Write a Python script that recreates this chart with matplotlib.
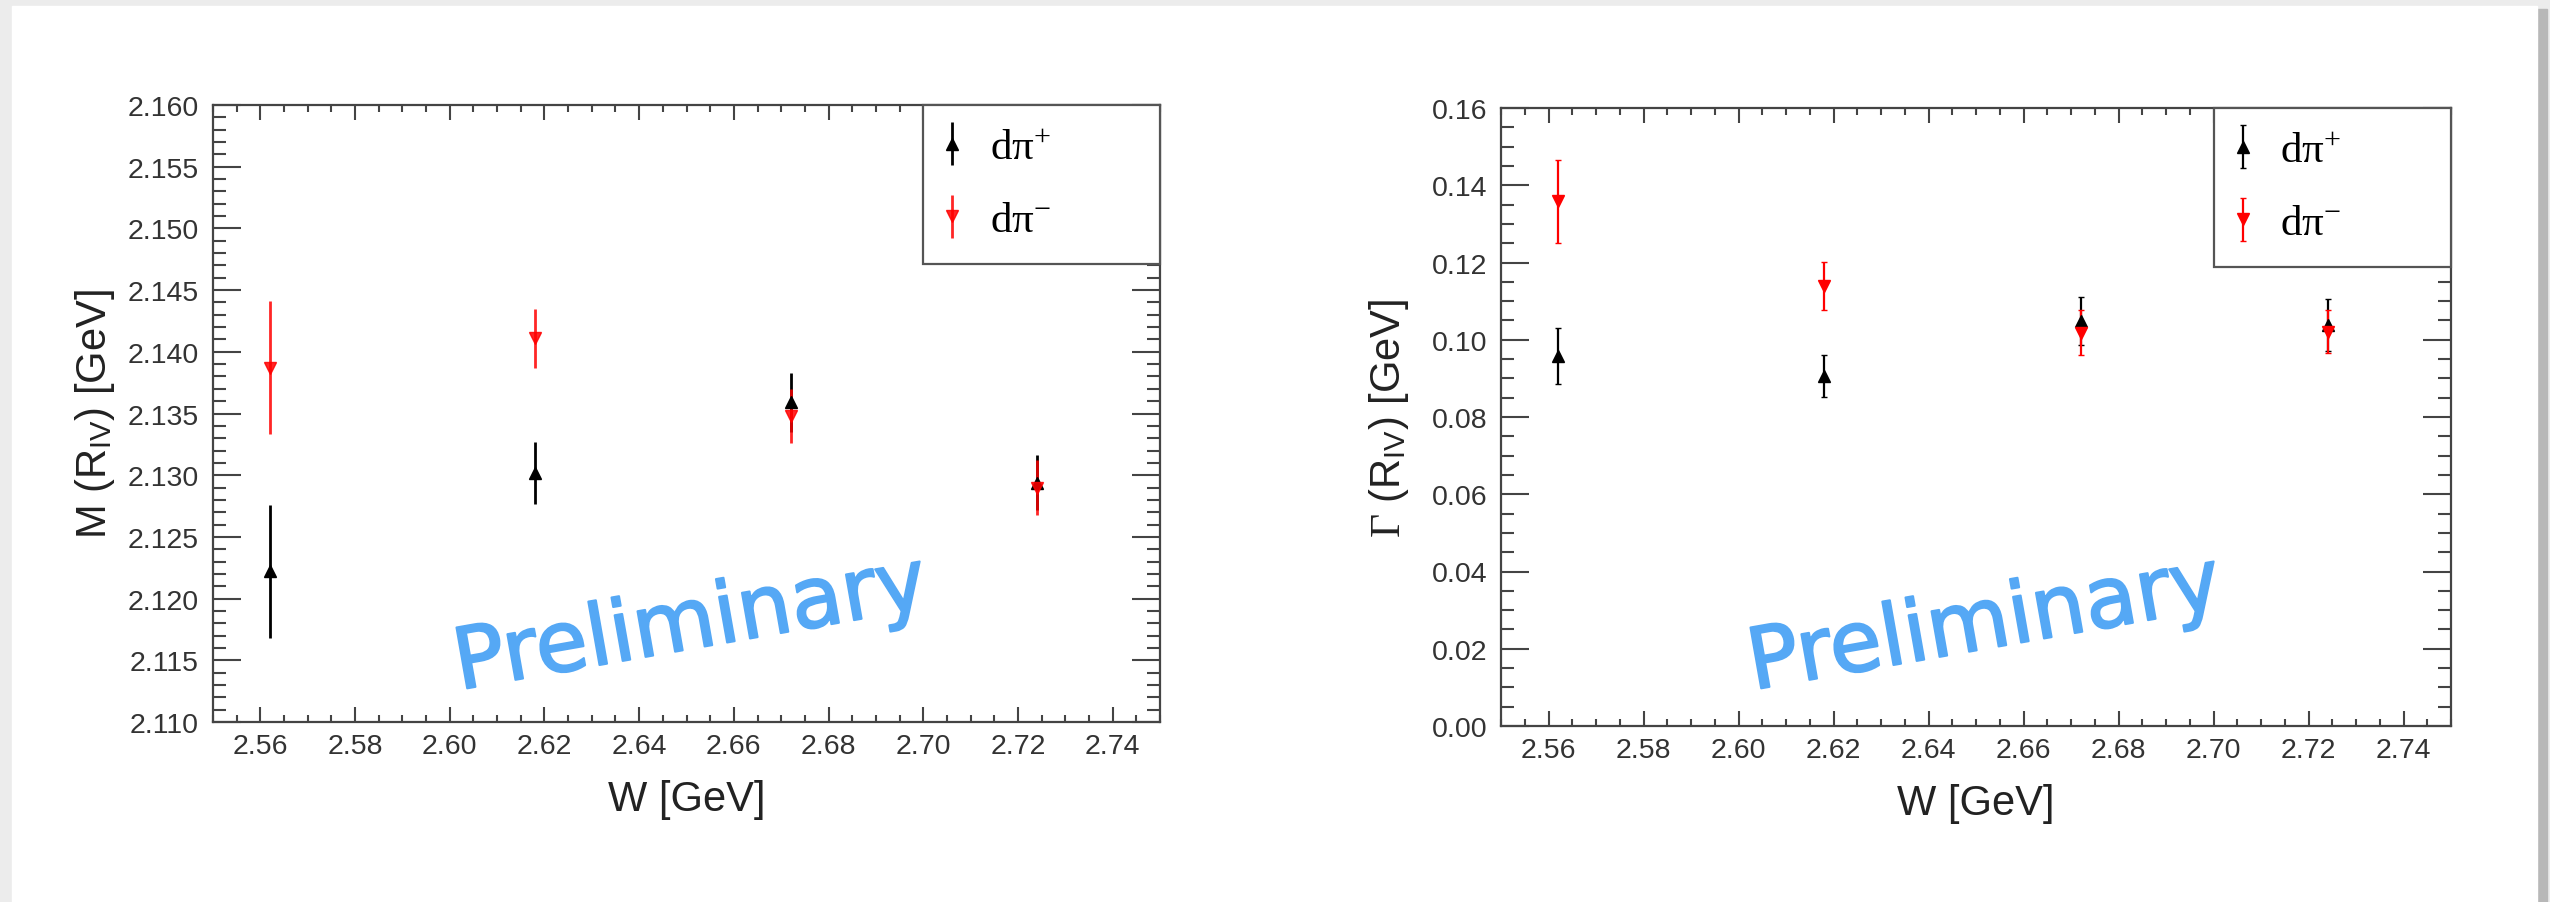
import matplotlib
matplotlib.use("Agg")
import matplotlib.pyplot as plt
import matplotlib.patheffects as pe
from matplotlib.patches import Rectangle
from matplotlib.ticker import MultipleLocator, FormatStrFormatter

# W [GeV] of the four bins
w_bins = [2.562, 2.618, 2.672, 2.724]

# mass of R_IV
mass_dpip = [2.1222, 2.1302, 2.1359, 2.1294]
mass_dpip_err = [0.0054, 0.0025, 0.0024, 0.0022]
mass_dpim = [2.1387, 2.1411, 2.1348, 2.1290]
mass_dpim_err = [0.0054, 0.0024, 0.0022, 0.0022]

# width of R_IV
width_dpip = [0.0958, 0.0906, 0.1048, 0.1039]
width_dpip_err = [0.0073, 0.0055, 0.0062, 0.0067]
width_dpim = [0.1358, 0.1140, 0.1018, 0.1021]
width_dpim_err = [0.0107, 0.0062, 0.0058, 0.0055]

labels = ["d\u03c0$^{+}$", "d\u03c0$^{-}$"]

plt.rcParams["font.family"] = ["Liberation Sans", "DejaVu Sans"]
# serif maths (Gamma, legend superscripts), sans for \mathsf subscripts
plt.rcParams["mathtext.fontset"] = "custom"
plt.rcParams["mathtext.rm"] = "Liberation Serif"
plt.rcParams["mathtext.it"] = "Liberation Serif:italic"
plt.rcParams["mathtext.sf"] = "Liberation Sans"

fig = plt.figure(figsize=(25.5, 9.03), dpi=100, facecolor="#ececec")

# slide page with a soft shadow on the right
fig.patches.append(Rectangle((2537 / 2550, 0), 10 / 2550, 1 - 10 / 903,
                             transform=fig.transFigure, color="#b8b8b8", zorder=-2))
fig.patches.append(Rectangle((12 / 2550, 0), 2525 / 2550, 1 - 7 / 903,
                             transform=fig.transFigure, color="white", zorder=-1))

ax1 = fig.add_axes([213 / 2550, 1 - 723 / 903, 947 / 2550, 617 / 903])
ax2 = fig.add_axes([1501 / 2550, 1 - 727 / 903, 950 / 2550, 618 / 903])

tick_col = "#333333"


def style(ax, ymajor, yminor, yfmt):
    ax.set_xlim(2.55, 2.75)
    ax.xaxis.set_major_locator(MultipleLocator(0.02))
    ax.xaxis.set_minor_locator(MultipleLocator(0.005))
    ax.xaxis.set_major_formatter(FormatStrFormatter("%.2f"))
    ax.yaxis.set_major_locator(MultipleLocator(ymajor))
    ax.yaxis.set_minor_locator(MultipleLocator(yminor))
    ax.yaxis.set_major_formatter(FormatStrFormatter(yfmt))
    ax.tick_params(which="both", direction="in", top=True, right=True,
                   color="#444444", width=1.5, labelsize=20.5, labelcolor=tick_col)
    ax.tick_params(axis="x", which="major", length=11, pad=8)
    ax.tick_params(axis="x", which="minor", length=5)
    ax.tick_params(axis="y", which="major", length=20, pad=10)
    ax.tick_params(axis="y", which="minor", length=9.5)
    for sp in ax.spines.values():
        sp.set_color("#444444")
        sp.set_linewidth(1.6)
    ax.set_xlabel("W [GeV]", fontsize=30, color="#222222")
    ax.xaxis.set_label_coords(0.5, -0.092)


def legend(ax):
    leg = ax.legend(loc="upper right", bbox_to_anchor=(0.75, 0.0, 0.25, 1.0),
                    mode="expand", borderaxespad=0,
                    prop={"family": "Liberation Serif", "size": 31},
                    fancybox=False, framealpha=1, edgecolor="#555555",
                    handlelength=0.25, handletextpad=0.75, borderpad=0.55,
                    labelspacing=0.77)
    leg.get_frame().set_linewidth(1.6)
    leg.set_zorder(5)


# mass panel
style(ax1, 0.005, 0.001, "%.3f")
ax1.set_ylim(2.110, 2.160)
ax1.errorbar(w_bins, mass_dpip, yerr=mass_dpip_err, fmt="^", color="black",
             ms=9, elinewidth=2, capsize=0, label=labels[0])
ax1.errorbar(w_bins, mass_dpim, yerr=mass_dpim_err, fmt="v", color="#ff0000",
             ms=9, elinewidth=2, capsize=0, alpha=0.85, label=labels[1])
ax1.set_ylabel("M (R$_{\\mathsf{IV}}$) [GeV]", fontsize=30, color="#222222")
ax1.yaxis.set_label_coords(-0.101, 0.5)
legend(ax1)

# width panel
style(ax2, 0.02, 0.005, "%.2f")
ax2.set_ylim(0.0, 0.16)
ax2.errorbar(w_bins, width_dpip, yerr=width_dpip_err, fmt="^", color="black",
             ms=9, elinewidth=1.6, capsize=2, label=labels[0])
ax2.errorbar(w_bins, width_dpim, yerr=width_dpim_err, fmt="v", color="#ff0000",
             ms=9, elinewidth=1.6, capsize=2, label=labels[1])
ax2.set_ylabel("$\\Gamma$ (R$_{\\mathsf{IV}}$) [GeV]", fontsize=30, color="#222222")
ax2.yaxis.set_label_coords(-0.095, 0.5)
legend(ax2)

prelim_col = "#55a8f5"
for x in (691 / 2550, 1985 / 2550):
    fig.text(x, 1 - 626 / 903, "Preliminary", fontsize=61, color=prelim_col,
             family="DejaVu Sans", rotation=10, ha="center", va="center",
             rotation_mode="anchor", zorder=6,
             path_effects=[pe.withStroke(linewidth=1.5, foreground=prelim_col)])

fig.savefig("out.png", dpi=100, facecolor=fig.get_facecolor())
